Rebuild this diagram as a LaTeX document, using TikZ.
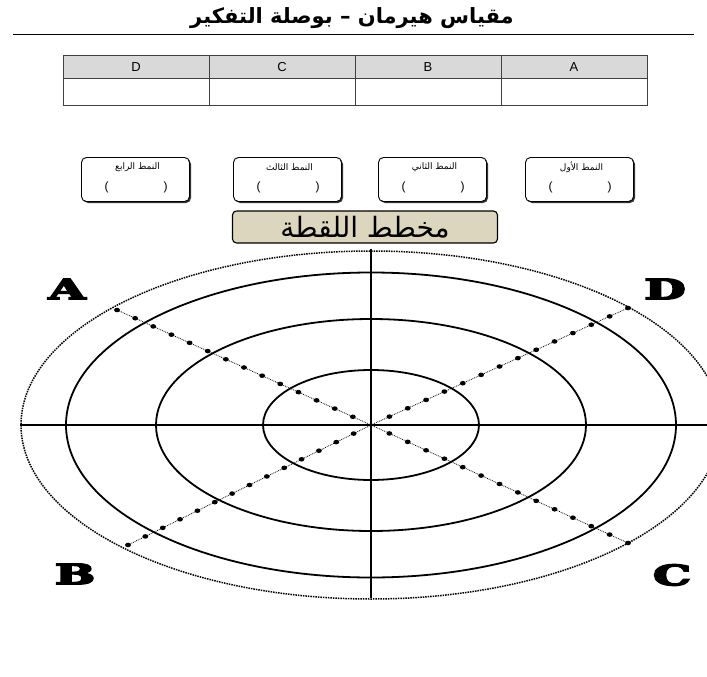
\documentclass[tikz,border=0pt]{standalone}
\usepackage{fontspec}
\setmainfont{Liberation Sans}
\newfontfamily\arabicfont[Script=Arabic]{DejaVu Sans}
\newfontfamily\slabfont{DejaVu Serif}
\TeXXeTstate=1
\usetikzlibrary{shadows,calc}
\definecolor{headgray}{HTML}{D9D9D9}
\definecolor{beige}{HTML}{DDD6BF}
\newcommand{\heavyletter}[1]{\special{pdf:literal 2 Tr 1.5 w}\scalebox{1.7}[1]{#1}\special{pdf:literal 0 Tr}}
\begin{document}
\begin{tikzpicture}[x=1pt,y=-1pt,
  cell/.style={draw=black!75, line width=1pt, minimum width=146pt, inner sep=0pt, font=\fontsize{13}{13}\selectfont},
  patbox/.style={draw, line width=0.9pt, rounded corners=5pt, minimum width=108pt, minimum height=44pt, fill=white,
    inner sep=0pt,
    drop shadow={shadow xshift=1.5pt, shadow yshift=-1.5pt, fill=black!80, opacity=1}},
  patlabel/.style={font=\arabicfont\fontsize{9}{10}\selectfont, inner sep=0pt},
  paren/.style={font=\fontsize{12}{12}\selectfont, inner sep=0pt},
  ring/.style={line width=1.8pt},
  axis/.style={line width=1.4pt},
  diag/.style={line width=0.8pt, densely dotted},
  bigletter/.style={font=\slabfont\bfseries\fontsize{28}{28}\selectfont, inner sep=0pt}]
\clip (0,0) rectangle (707,677);
\fill[white] (0,0) rectangle (707,677);
% title
\node (title) at (352,18) {\arabicfont\bfseries\fontsize{21}{24}\selectfont\beginR مقياس هيرمان – بوصلة التفكير\endR};
\coordinate (tl) at (13,34);
\coordinate (tr) at (694,34);
\draw[line width=0.9pt] (tl) -- (tr);
% table
\foreach \n/\t [count=\k] in {D/D,C/C,B/B,A/A} {
  \node[cell, fill=headgray, minimum height=23pt] (h\n) at (63+146*\k-73,67.5) {\t};
  \node[cell, minimum height=27pt] (b\n) at (63+146*\k-73,92) {};
}
% pattern boxes
\foreach \x/\lab/\nm in {135.5/النمط الرابع/p4, 287.5/النمط الثالث/p3, 432.5/النمط الثاني/p2, 579.5/النمط الأول/p1} {
  \node[patbox] (\nm) at (\x,179.5) {};
  \node[patlabel] (\nm t) at ($(\nm.center)+(2,-12)$) {\beginR \lab\endR};
  \node[paren] (\nm l) at ($(\nm.center)+(-29,8)$) {(};
  \node[paren] (\nm r) at ($(\nm.center)+(30,8)$) {)};
}
% snapshot title box
\node[draw, line width=1.1pt, rounded corners=4pt, fill=beige, minimum width=265pt, minimum height=32pt, inner sep=0pt] (snap) at (365,227)
  {\arabicfont\fontsize{28}{28}\selectfont\beginR مخطط اللقطة\endR};
% compass
\coordinate (O) at (371,425);
\draw[line width=1.5pt, densely dotted] (O) ellipse (350 and 174);
\draw[ring] (O) ellipse (305 and 152.5);
\draw[ring] (O) ellipse (215 and 106);
\draw[ring] (O) ellipse (108 and 55);
\coordinate (hl) at (20,425);
\coordinate (hr) at (707,425);
\coordinate (vt) at (371,249);
\coordinate (vb) at (371,598);
\draw[axis] (hl) -- (hr);
\draw[axis] (vt) -- (vb);
\foreach \ex/\ey [count=\k] in {-254/-115, 257/-117, -243/120, 257/118} {
  \coordinate (e\k) at ($(O)+(\ex,\ey)$);
  \draw[diag] (O) -- (e\k);
  \foreach \i in {1,...,14} \fill ($(O)!\i/14!(e\k)$) ellipse (2.9 and 2.3);
}
% letters
\node[bigletter] (lA) at (67,289) {\heavyletter{A}};
\node[bigletter] (lD) at (665,289) {\heavyletter{D}};
\node[bigletter] (lB) at (75,574) {\heavyletter{B}};
\node[bigletter] (lC) at (672,575) {\heavyletter{C}};
\end{tikzpicture}
\end{document}
